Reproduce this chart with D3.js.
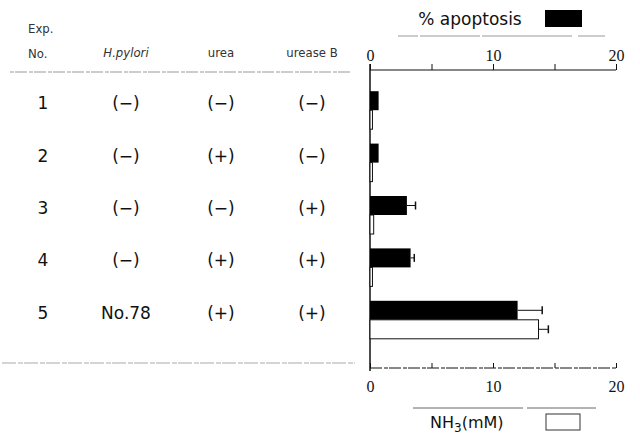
<!doctype html>
<html>
<head>
  <meta charset="utf-8">
  <title>apoptosis vs NH3</title>
  <style>
    html, body { margin: 0; padding: 0; background: #fff; }
    svg { display: block; }
    text { fill: #111; }
    .tbl { font-family: "DejaVu Sans", sans-serif; font-size: 17px; }
    .hdr { font-family: "DejaVu Sans Condensed", "DejaVu Sans", sans-serif; font-size: 13px; fill: #333; }
    .axis text { font-family: "Liberation Serif", serif; font-size: 16px; fill: #111; }
    .axis path, .axis line { stroke: #111; }
  </style>
</head>
<body>
<script src="https://d3js.org/d3.v7.min.js"></script>
<script>
  // table rows
  const exps = ["1", "2", "3", "4", "5"];
  const hpylori = ["(\u2212)", "(\u2212)", "(\u2212)", "(\u2212)", "No.78"];
  const urea = ["(\u2212)", "(+)", "(\u2212)", "(+)", "(+)"];
  const ureaseB = ["(\u2212)", "(\u2212)", "(+)", "(+)", "(+)"];

  // series
  const apoptosis = [0.7, 0.7, 3.0, 3.3, 12.0];
  const apoptosisErr = [0, 0, 0.7, 0.3, 2.0];
  const nh3 = [0.2, 0.2, 0.3, 0.2, 13.7];
  const nh3Err = [0, 0, 0, 0, 0.8];

  const ticks = [0, 5, 10, 15, 20];
  const tickLabels = ["0", "", "10", "", "20"];

  const W = 640, H = 437;
  const svg = d3.select("body").append("svg").attr("width", W).attr("height", H);

  const x = d3.scaleLinear().domain([0, 20]).range([370, 616]);
  const y = d3.scaleBand().domain(exps).range([84, 346]);
  const barH = 19;

  // header
  svg.append("text").attr("class", "hdr").attr("x", 28).attr("y", 33).text("Exp.");
  svg.append("text").attr("class", "hdr").attr("x", 28).attr("y", 58).text("No.");
  svg.append("text").attr("class", "hdr").attr("x", 126).attr("y", 57)
      .attr("text-anchor", "middle").style("font-style", "italic").text("H.pylori");
  svg.append("text").attr("class", "hdr").attr("x", 221).attr("y", 57)
      .attr("text-anchor", "middle").text("urea");
  svg.append("text").attr("class", "hdr").attr("x", 312).attr("y", 57)
      .attr("text-anchor", "middle").text("urease B");

  // separators
  svg.append("line").attr("x1", 10).attr("x2", 350).attr("y1", 72).attr("y2", 72)
      .attr("stroke", "#999").attr("stroke-width", 1).attr("stroke-dasharray", "4,1,12,2");
  svg.append("line").attr("x1", 2).attr("x2", 355).attr("y1", 363).attr("y2", 363)
      .attr("stroke", "#aaa").attr("stroke-width", 1).attr("stroke-dasharray", "14,2,5,1");

  // table cells
  const cols = [
    { vals: exps, cx: 43 },
    { vals: hpylori, cx: 126 },
    { vals: urea, cx: 221 },
    { vals: ureaseB, cx: 312 }
  ];
  cols.forEach(c => {
    svg.selectAll(null).data(exps).enter().append("text")
        .attr("class", "tbl")
        .attr("x", c.cx)
        .attr("y", d => y(d) + y.bandwidth() / 2 - 1)
        .attr("text-anchor", "middle")
        .text((d, i) => c.vals[i]);
  });

  // axes
  const topAxis = svg.append("g").attr("class", "axis").attr("transform", "translate(0,70)")
      .call(d3.axisTop(x).tickValues(ticks).tickSize(6).tickPadding(3)
        .tickFormat((d, i) => tickLabels[i]));
  topAxis.select(".domain").remove();
  topAxis.append("line").attr("x1", x(0)).attr("x2", x(20)).attr("stroke", "#111");

  const botAxis = svg.append("g").attr("class", "axis").attr("transform", "translate(0,368)")
      .call(d3.axisBottom(x).tickValues(ticks).tickSize(-5).tickPadding(10)
        .tickFormat((d, i) => tickLabels[i]));
  botAxis.select(".domain").remove();
  botAxis.append("line").attr("x1", x(0)).attr("x2", x(20)).attr("stroke", "#666")
      .attr("stroke-dasharray", "12,2,4,1");
  botAxis.selectAll(".tick text").attr("dy", "0.9em");

  svg.append("line").attr("x1", x(0)).attr("x2", x(0)).attr("y1", 64).attr("y2", 371)
      .attr("stroke", "#111").attr("stroke-width", 1.5);

  // bars
  const mid = d => y(d) + y.bandwidth() / 2;

  svg.selectAll(".apo").data(exps).enter().append("rect")
      .attr("class", "apo")
      .attr("x", x(0))
      .attr("y", d => mid(d) - barH)
      .attr("width", (d, i) => x(apoptosis[i]) - x(0))
      .attr("height", barH)
      .attr("fill", "#000");

  svg.selectAll(".nh3").data(exps).enter().append("rect")
      .attr("class", "nh3")
      .attr("x", x(0))
      .attr("y", d => mid(d))
      .attr("width", (d, i) => x(nh3[i]) - x(0))
      .attr("height", barH)
      .attr("fill", "#fff")
      .attr("stroke", "#111")
      .attr("stroke-width", 1);

  // error bars
  function errBars(vals, errs, off) {
    exps.forEach((d, i) => {
      if (!errs[i]) return;
      const yy = mid(d) + off;
      svg.append("line").attr("x1", x(vals[i])).attr("x2", x(vals[i] + errs[i]))
          .attr("y1", yy).attr("y2", yy).attr("stroke", "#111");
      svg.append("line").attr("x1", x(vals[i] + errs[i])).attr("x2", x(vals[i] + errs[i]))
          .attr("y1", yy - 4).attr("y2", yy + 4).attr("stroke", "#111").attr("stroke-width", 1.5);
    });
  }
  errBars(apoptosis, apoptosisErr, -barH / 2);
  errBars(nh3, nh3Err, barH / 2);

  // legends
  svg.append("text").attr("class", "tbl").attr("x", 470).attr("y", 25)
      .attr("text-anchor", "middle").style("font-size", "17px").text("% apoptosis");
  svg.append("rect").attr("x", 545).attr("y", 10).attr("width", 37).attr("height", 17).attr("fill", "#000");
  svg.append("line").attr("x1", 398).attr("x2", 605).attr("y1", 36).attr("y2", 36)
      .attr("stroke", "#999").attr("stroke-dasharray", "20,2,60,2,90,6,30");

  svg.append("line").attr("x1", 413).attr("x2", 596).attr("y1", 408).attr("y2", 408)
      .attr("stroke", "#666").attr("stroke-dasharray", "110,4,70");
  const nh = svg.append("text").attr("class", "tbl").attr("x", 430).attr("y", 428)
      .style("font-size", "16px");
  nh.append("tspan").text("NH");
  nh.append("tspan").attr("dy", 4).style("font-size", "12px").text("3");
  nh.append("tspan").attr("dy", -4).text("(mM)");
  svg.append("rect").attr("x", 546).attr("y", 414).attr("width", 34).attr("height", 16)
      .attr("fill", "#fff").attr("stroke", "#333");
</script>
</body>
</html>
